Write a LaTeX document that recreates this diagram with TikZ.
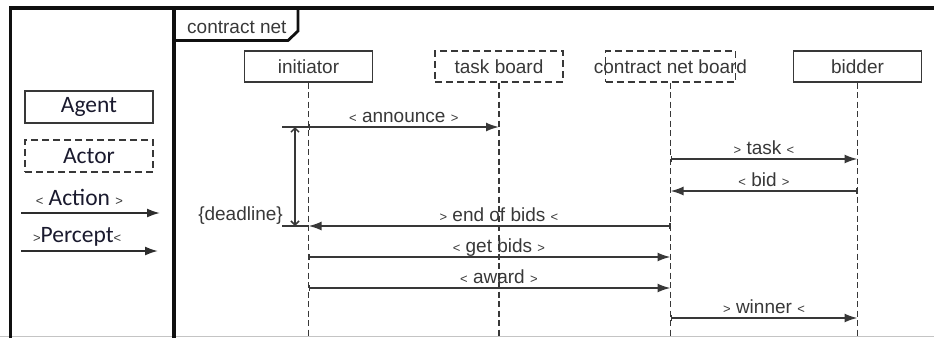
\documentclass[tikz,border=0pt]{standalone}
\usepackage{fontspec}
\setmainfont{Liberation Sans}
\newfontfamily\legendfont{Carlito}
\usetikzlibrary{arrows.meta}
\definecolor{ink}{HTML}{383838}
\definecolor{frameink}{HTML}{101010}
\definecolor{legendink}{HTML}{1A1A2E}
\definecolor{edgegray}{HTML}{C4C4C4}
% small angle brackets around message names
\newcommand\ltag{{\fontsize{13}{13}\selectfont<}}
\newcommand\rtag{{\fontsize{13}{13}\selectfont>}}
\begin{document}
\begin{tikzpicture}[x=1pt,y=-1pt,
  font=\fontsize{19}{22}\selectfont,
  every node/.style={text=ink},
  headbox/.style={draw=ink, line width=1.6pt, minimum width=128pt, minimum height=31pt, inner sep=0pt},
  actorbox/.style={headbox, dash pattern=on 7pt off 4pt},
  lifeline/.style={draw=ink, line width=1.6pt, dash pattern=on 6pt off 3.5pt},
  msg/.style={draw=ink, line width=1.8pt, {Bar[width=6pt]}-{Latex[length=13pt,width=9pt]}},
  msglabel/.style={anchor=base, yshift=5pt, inner sep=0pt},
  legendbox/.style={draw=ink, line width=1.7pt, minimum width=128pt, minimum height=32pt, inner sep=0pt,
    text=legendink, font=\legendfont\fontsize{23.5}{26}\selectfont},
  legendarrow/.style={draw=ink!80!black, line width=1.9pt, -{Latex[length=13pt,width=9pt]}},
  legendlabel/.style={anchor=base, yshift=8pt, inner sep=0pt},
  bigframe/.style={draw=frameink, line width=3.8pt},
]
\useasboundingbox (0,0) rectangle (934,338);

% outer frame and legend divider
\draw[edgegray, line width=1.5pt] (0,336.5) -- (934,336.5);
\draw[bigframe, line join=miter] (10.5,338) -- (10.5,8) -- (934,8);
\draw[bigframe] (173.7,8) -- (173.7,338);

% diagram name tab
\draw[frameink, line width=2.8pt, line join=miter] (173.7,40.5) -- (288,40.5) -- (298,31) -- (298,8);
\node[anchor=base west, inner sep=0pt] (tabname) at (187,33) {contract net};

% legend
\node[legendbox] (agent) at (89,107) {Agent};
\node[legendbox, dash pattern=on 7pt off 4pt] (actor) at (89,156) {Actor};
\coordinate (actL) at (21,213);
\coordinate (actR) at (160,213);
\draw[legendarrow] (actL) -- (actR)
  node[legendlabel, pos=0.42] {\ltag\ {\legendfont\fontsize{23.5}{26}\selectfont\color{legendink}Action} \rtag};
\coordinate (perL) at (21,251);
\coordinate (perR) at (158,251);
\draw[legendarrow] (perL) -- (perR)
  node[legendlabel, pos=0.41, yshift=1pt] {\rtag{\legendfont\fontsize{23.5}{26}\selectfont\color{legendink}Percept}\ltag};

% lifeline heads
\node[headbox] (ini) at (308.5,66.3) {};
\node[inner sep=0pt] at (ini) {initiator};
\node[actorbox] (tb) at (499,66.3) {};
\node[inner sep=0pt] at (tb) {task board};
\node[actorbox, minimum width=130pt] (cnb) at (670.5,66.3) {};
\node[inner sep=0pt] at (cnb) {contract net board};
\node[headbox] (bid) at (857.5,66.3) {};
\node[inner sep=0pt] at (bid) {bidder};

% message rows
\coordinate (r1) at (0,127);
\coordinate (r2) at (0,159);
\coordinate (r3) at (0,191);
\coordinate (r4) at (0,226);
\coordinate (r5) at (0,257);
\coordinate (r6) at (0,288);
\coordinate (r7) at (0,318);
\coordinate (bottom) at (0,338);

% messages
\draw[msg] (ini |- r1) -- (tb |- r1) node[msglabel, midway] {\ltag\ announce \rtag};
\draw[msg] (cnb |- r2) -- (bid |- r2) node[msglabel, midway] {\rtag\ task \ltag};
\draw[msg] (bid |- r3) -- (cnb |- r3) node[msglabel, midway] {\ltag\ bid \rtag};
\draw[msg] (cnb |- r4) -- (ini |- r4) node[msglabel, pos=0.474] {\rtag\ end of bids \ltag};
\draw[msg] (ini |- r5) -- (cnb |- r5) node[msglabel, pos=0.526] {\ltag\ get bids \rtag};
\draw[msg] (ini |- r6) -- (cnb |- r6) node[msglabel, pos=0.526] {\ltag\ award \rtag};
\draw[msg] (cnb |- r7) -- (bid |- r7) node[msglabel, midway] {\rtag\ winner \ltag};

% lifelines
\draw[lifeline] (ini.south) -- (ini |- bottom);
\draw[lifeline] (tb.south) -- (tb |- bottom);
\draw[lifeline] (cnb.south) -- (cnb |- bottom);
\draw[lifeline] (bid.south) -- (bid |- bottom);

% deadline constraint
\coordinate (dlTop) at (282,127);
\coordinate (dlBot) at (282,226);
\draw[draw=ink, line width=1.5pt] (dlTop) -- (ini |- r1);
\draw[draw=ink, line width=1.5pt] (dlBot) -- (ini |- r4);
\coordinate (dlA) at (295,127);
\coordinate (dlB) at (295,226);
\draw[draw=ink, line width=1.5pt, {Straight Barb[length=4pt,width=8pt]}-{Straight Barb[length=4pt,width=8pt]}] (dlA) -- (dlB);
\node[anchor=base east, inner sep=0pt] (deadline) at (283,220) {\{deadline\}};
\end{tikzpicture}
\end{document}
